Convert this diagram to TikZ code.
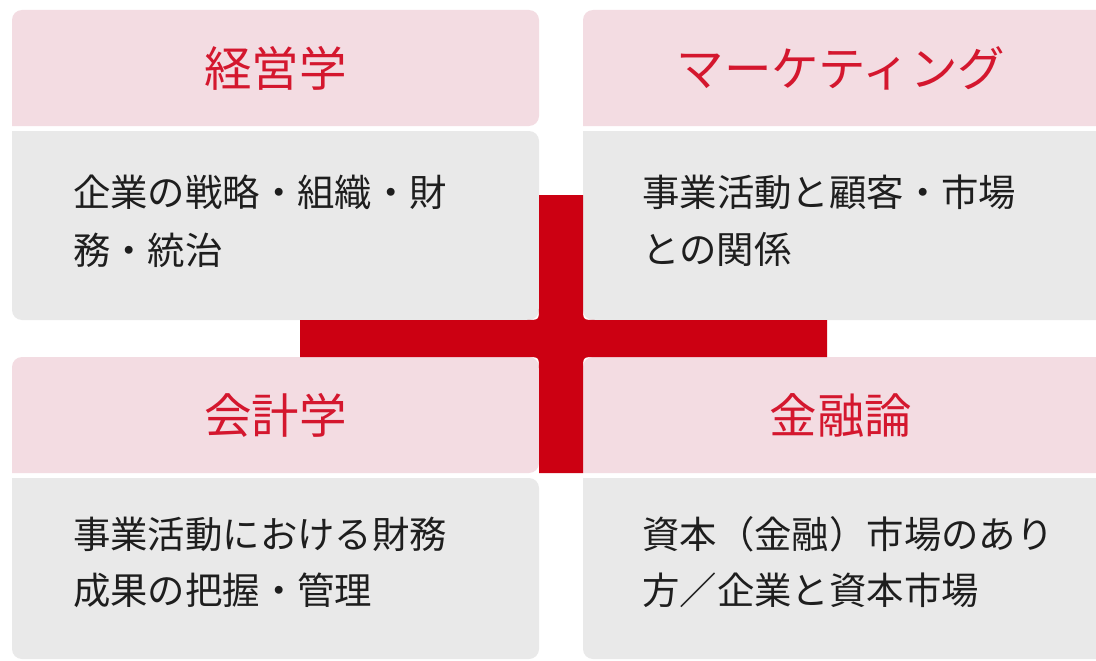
\documentclass[tikz,border=0pt]{standalone}
\usepackage{fontspec}
\setmainfont{Noto Sans CJK JP}
\definecolor{hdrpink}{HTML}{F3DCE2}
\definecolor{bodygray}{HTML}{E9E9E9}
\definecolor{crossred}{HTML}{CC0012}
\definecolor{titlered}{HTML}{D4172E}
\definecolor{bodytext}{HTML}{1E1E1E}
\tikzset{
  hdr/.style={fill=hdrpink},
  bdy/.style={fill=bodygray},
  ttl/.style={text=titlered, font=\fontsize{47.5}{52}\selectfont, inner sep=0pt, anchor=center},
  txt/.style={text=bodytext, font=\fontsize{37.4}{44}\selectfont, inner sep=0pt, anchor=base west},
}
\begin{document}
\begin{tikzpicture}[x=1pt,y=-1pt]
\useasboundingbox (0,0) rectangle (1096,661);
\clip (0,0) rectangle (1096,661);
\fill[white] (0,0) rectangle (1096,661);
% top-left box
\fill[hdr, rounded corners=10pt] (12,126) -- (12,10) -- (539,10) -- (539,126) [sharp corners]-- cycle;
\fill[bdy, rounded corners=10pt] (12,131) -- (12,320) -- (539,320) -- (539,131) [sharp corners]-- cycle;
% top-right box
\fill[hdr, rounded corners=10pt] (583,126) -- (583,10) -- (1110,10) -- (1110,126) [sharp corners]-- cycle;
\fill[bdy, rounded corners=10pt] (583,131) -- (583,320) -- (1110,320) -- (1110,131) [sharp corners]-- cycle;
% bottom-left box
\fill[hdr, rounded corners=10pt] (12,473) -- (12,357) -- (539,357) -- (539,473) [sharp corners]-- cycle;
\fill[bdy, rounded corners=10pt] (12,478) -- (12,659) -- (539,659) -- (539,478) [sharp corners]-- cycle;
% bottom-right box
\fill[hdr, rounded corners=10pt] (583,473) -- (583,357) -- (1110,357) -- (1110,473) [sharp corners]-- cycle;
\fill[bdy, rounded corners=10pt] (583,478) -- (583,659) -- (1110,659) -- (1110,478) [sharp corners]-- cycle;
% red cross with concave fillets
\fill[crossred] (539,195) -- (583,195) -- (583,308) .. controls (583,320) .. (595,320)
  -- (827,320) -- (827,357) -- (595,357) .. controls (583,357) .. (583,369)
  -- (583,473) -- (539,473) -- (539,369) .. controls (539,357) .. (527,357)
  -- (300,357) -- (300,320) -- (527,320) .. controls (539,320) .. (539,308) -- cycle;
% titles
\node[ttl] (t1) at (275.5,68) {経営学};
\node[ttl] (t2) at (841,68) {マーケティング};
\node[ttl] (t3) at (275.5,415) {会計学};
\node[ttl] (t4) at (841,415) {金融論};
% bodies
\node[txt] (b1a) at (73,206) {企業の戦略・組織・財};
\node[txt] (b1b) at (73,264) {務・統治};
\node[txt] (b2a) at (642,206) {事業活動と顧客・市場};
\node[txt] (b2b) at (642,263) {との関係};
\node[txt] (b3a) at (73,548) {事業活動における財務};
\node[txt] (b3b) at (73,604) {成果の把握・管理};
\node[txt] (b4a) at (642,548) {資本（金融）市場のあり};
\node[txt] (b4b) at (642,604) {方／企業と資本市場};
\end{tikzpicture}
\end{document}
